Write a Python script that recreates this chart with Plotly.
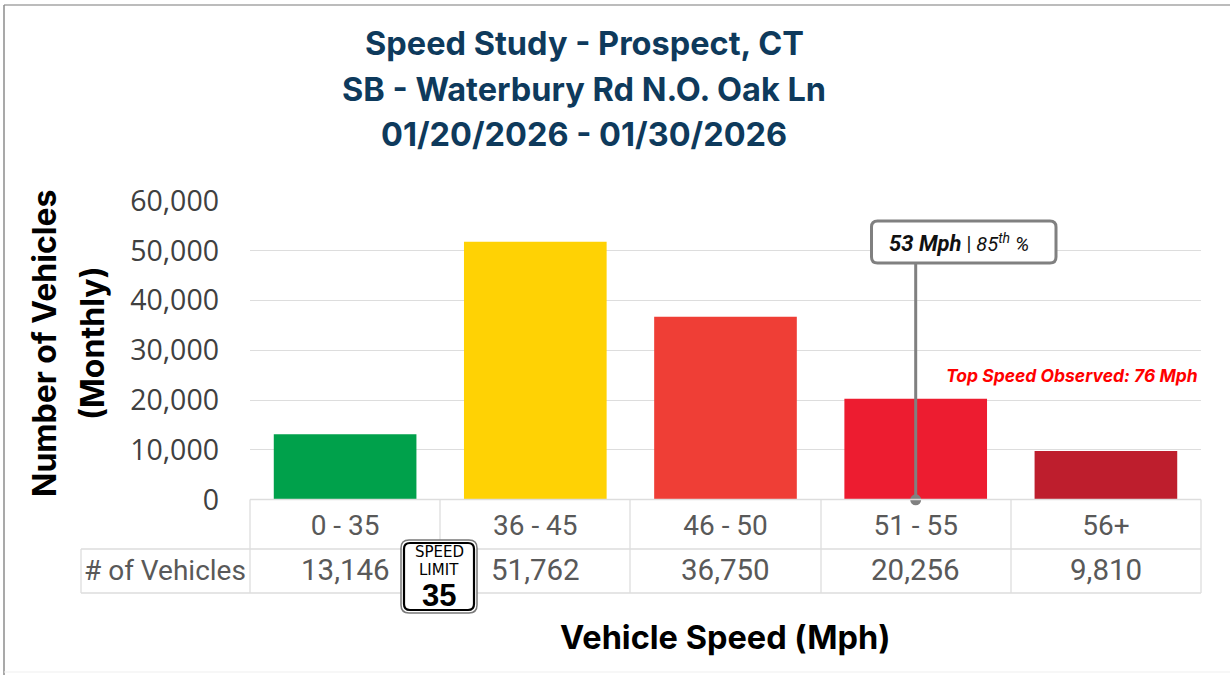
import plotly.graph_objects as go

categories = ["0 - 35", "36 - 45", "46 - 50", "51 - 55", "56+"]
vehicles = [13146, 51762, 36750, 20256, 9810]
bar_colors = ["#00A14B", "#FFD204", "#EF3E36", "#ED1C30", "#BE1E2D"]
title_lines = ["Speed Study - Prospect, CT", "SB - Waterbury Rd N.O. Oak Ln", "01/20/2026 - 01/30/2026"]
y_ticks = [0, 10000, 20000, 30000, 40000, 50000, 60000]
p85_category = "51 - 55"
callout_level = 47400

W, H = 1230, 675
px = lambda x: x / W
py = lambda y: 1 - y / H
SANS = "Inter"
TICK = "Open Sans"
TBL = "Roboto"
GRID = "#DDDDDD"

fig = go.Figure()
fig.add_trace(go.Bar(x=categories, y=vehicles, marker=dict(color=bar_colors, line_width=0), width=0.75, hoverinfo="x+y"))
fig.add_trace(go.Scatter(x=[p85_category, p85_category], y=[0, callout_level], mode="lines",
                         line=dict(color="#808080", width=3), hoverinfo="skip"))
fig.add_trace(go.Scatter(x=[p85_category], y=[0], mode="markers",
                         marker=dict(color="#808080", size=11), hoverinfo="skip", cliponaxis=False))

shapes = []
def line(x0, y0, x1, y1, color=GRID, width=1.3):
    shapes.append(dict(type="line", xref="paper", yref="paper", x0=px(x0), x1=px(x1), y0=py(y0), y1=py(y1),
                       line=dict(color=color, width=width)))

def rrect(x0, y0, x1, y1, r, fill, color, width):
    X0, X1, Y0, Y1 = px(x0), px(x1), py(y0), py(y1)
    rx, ry = r / W, r / H
    path = (f"M{X0+rx},{Y0} L{X1-rx},{Y0} Q{X1},{Y0} {X1},{Y0-ry} L{X1},{Y1+ry} Q{X1},{Y1} {X1-rx},{Y1} "
            f"L{X0+rx},{Y1} Q{X0},{Y1} {X0},{Y1+ry} L{X0},{Y0-ry} Q{X0},{Y0} {X0+rx},{Y0} Z")
    shapes.append(dict(type="path", xref="paper", yref="paper", path=path, fillcolor=fill,
                       line=dict(color=color, width=width), layer="above"))

# outer frame of the picture
line(4, 5, 1230, 5, "#A6A6A6", 1.5)
line(4, 5, 4, 675, "#8C8C8C", 1.5)
line(4, 672, 1230, 672, "#EFEFEF", 1)

# data table
for y, x0 in ((499.5, 250), (549, 81), (593, 81)):
    line(x0, y, 1201, y)
for x, y0 in ((81, 549), (250, 499.5), (440, 499.5), (630, 499.5), (821, 499.5), (1011, 499.5), (1201, 499.5)):
    line(x, y0, x, 593)

# callout and sign
rrect(871.5, 221, 1056, 263, 6, "#FFFFFF", "#808080", 3)
rrect(401, 540, 477, 613, 8, "#FFFFFF", "#7A7A7A", 1.5)
rrect(404, 543, 474, 610, 6, "#FFFFFF", "#000000", 2.2)

ann = []
def text(x, y, s, size, color="#000000", family=SANS, xanchor="center", xref="paper", angle=0):
    ann.append(dict(x=px(x) if xref == "paper" else x, y=py(y), xref=xref, yref="paper", text=s, showarrow=False,
                    font=dict(family=family, size=size, color=color), xanchor=xanchor, yanchor="middle",
                    textangle=angle, align="center"))

for s, y in zip(title_lines, (43, 89, 135)):
    text(584, y, f"<b>{s}</b>", 32.5, "#0E3A5C")
text(44, 344, "<b>Number of Vehicles</b>", 32, angle=-90)
text(92, 344, "<b>(Monthly)</b>", 32, angle=-90)
text(725, 637, "<b>Vehicle Speed (Mph)</b>", 32.5)
text(165, 570, "# of Vehicles", 28, "#595959", TBL)
for c, v in zip(categories, vehicles):
    text(c, 570, f"{v:,}", 29.5, "#595959", TBL, xref="x")
text(1200, 375, "<b><i>Top Speed Observed: 76 Mph</i></b>", 17.5, "#FF0000", xanchor="right")
text(959, 243, "<b><i><span style=\"font-size:22px\">53 Mph</span></i></b> | <i>85<sup>th</sup> %</i>", 20, "#111111", TBL)
text(439, 552, "SPEED", 15, "#000000", "DejaVu Sans")
text(439, 569.5, "LIMIT", 15, "#000000", "DejaVu Sans")
text(439, 595, "<b>35</b>", 31, "#000000", "Liberation Sans")

fig.update_layout(
    template="none",
    width=W, height=H, margin=dict(l=0, r=0, t=0, b=0, autoexpand=False), autosize=False,
    paper_bgcolor="#FFFFFF", plot_bgcolor="#FFFFFF", showlegend=False,
    shapes=shapes, annotations=ann,
    xaxis=dict(domain=[px(250), px(1201)], categoryorder="array", categoryarray=categories, showgrid=False,
               automargin=False, showline=False, ticks="", ticklabelstandoff=6,
               tickfont=dict(family=TBL, size=28, color="#595959")),
    yaxis=dict(domain=[py(499.8), py(200.8)], range=[0, 60000], tickvals=y_ticks, tickformat=",", showgrid=True,
               automargin=False, gridcolor=GRID, gridwidth=1.3, zeroline=False, showline=False, ticks="",
               ticklabelstandoff=30, tickfont=dict(family=TICK, size=28.5, color="#404040")),
)
fig.write_html("out.html", config={"displayModeBar": False}, post_script="document.body.style.margin='0';")
